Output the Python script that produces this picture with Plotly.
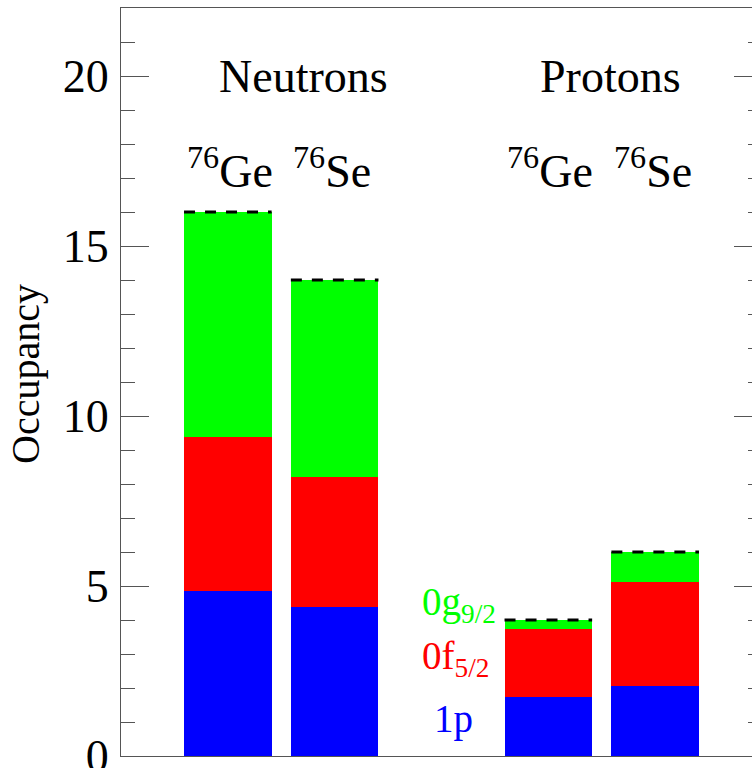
import plotly.graph_objects as go

# Valence-orbital occupancies of 76Ge and 76Se (neutrons, then protons)
positions = [1, 2, 4, 5]
nuclei = ["<sup>76</sup>Ge", "<sup>76</sup>Se", "<sup>76</sup>Ge", "<sup>76</sup>Se"]
occ_1p = [4.84, 4.38, 1.73, 2.05]
occ_0f52 = [4.54, 3.83, 2.01, 3.07]
occ_0g92 = [6.62, 5.79, 0.26, 0.88]
valence_totals = [16, 14, 4, 6]
groups = ["Neutrons", "Protons"]
group_starts = [0.9, 3.9]

SERIF = "Liberation Serif"
BAR_W = 0.82
BLUE, RED, GREEN = "#0000ff", "#ff0000", "#00ff00"

fig = go.Figure()
for vals, col, name in [(occ_1p, BLUE, "1p"), (occ_0f52, RED, "0f5/2"), (occ_0g92, GREEN, "0g9/2")]:
    fig.add_trace(go.Bar(
        x=positions, y=vals, width=BAR_W, name=name,
        marker=dict(color=col, line=dict(width=0)),
        showlegend=False, hoverinfo="skip",
    ))

# dashed line marking the number of valence nucleons above each bar
for xp, tot in zip(positions, valence_totals):
    fig.add_trace(go.Scatter(
        x=[xp - BAR_W / 2, xp + BAR_W / 2], y=[tot, tot], mode="lines",
        line=dict(color="black", width=3, dash="11px,10px"),
        showlegend=False, hoverinfo="skip",
    ))

annotations = []
for g, gx in zip(groups, group_starts):
    annotations.append(dict(x=gx, y=20, xref="x", yref="y", text=g, showarrow=False,
                            xanchor="left", yanchor="middle",
                            font=dict(family=SERIF, size=46, color="black")))
for xp, lab in zip(positions, nuclei):
    annotations.append(dict(x=xp - BAR_W / 2 + 0.005, y=17.3, xref="x", yref="y", text=lab,
                            showarrow=False, xanchor="left", yanchor="middle",
                            font=dict(family=SERIF, size=46, color="black")))

# orbital key beside the proton bars
key = [("0g<sub>9/2</sub>", GREEN, 2.795, 4.45),
       ("0f<sub>5/2</sub>", RED, 2.795, 2.88),
       ("1p", BLUE, 2.915, 1.10)]
for txt, col, kx, ky in key:
    annotations.append(dict(x=kx, y=ky, xref="x", yref="y", text=txt, showarrow=False,
                            xanchor="left", yanchor="middle",
                            font=dict(family=SERIF, size=39, color=col)))

annotations.append(dict(x=-0.149, y=11.25, xref="paper", yref="y", text="Occupancy",
                        showarrow=False, textangle=-90, xanchor="center", yanchor="middle",
                        font=dict(family=SERIF, size=40, color="black")))

AX = "#555555"
fig.update_layout(
    barmode="stack",
    width=766, height=768,
    margin=dict(l=121, r=4, t=8, b=12, autoexpand=False),
    paper_bgcolor="white", plot_bgcolor="white",
    font=dict(family=SERIF, color="black"),
    annotations=annotations,
    xaxis=dict(range=[0, 6], showgrid=False, zeroline=False, showticklabels=False,
               ticks="", showline=True, linecolor=AX, linewidth=1, mirror=True, automargin=False),
    yaxis=dict(range=[0, 22], showgrid=False, zeroline=False, automargin=False,
               tickmode="array", tickvals=[0, 5, 10, 15, 20], ticktext=["0", "5", "10", "15", "20"],
               ticks="inside", ticklen=28, tickwidth=1, tickcolor=AX,
               minor=dict(dtick=1, tick0=0, ticks="inside", ticklen=14, tickwidth=1, tickcolor=AX, showgrid=False),
               tickfont=dict(family=SERIF, size=46, color="black"),
               ticklabelstandoff=2, ticklabeloverflow="allow",
               showline=True, linecolor=AX, linewidth=1, mirror="ticks"),
)

fig.write_html("out.html",
               post_script="document.documentElement.style.overflow='hidden';document.body.style.overflow='hidden';")
